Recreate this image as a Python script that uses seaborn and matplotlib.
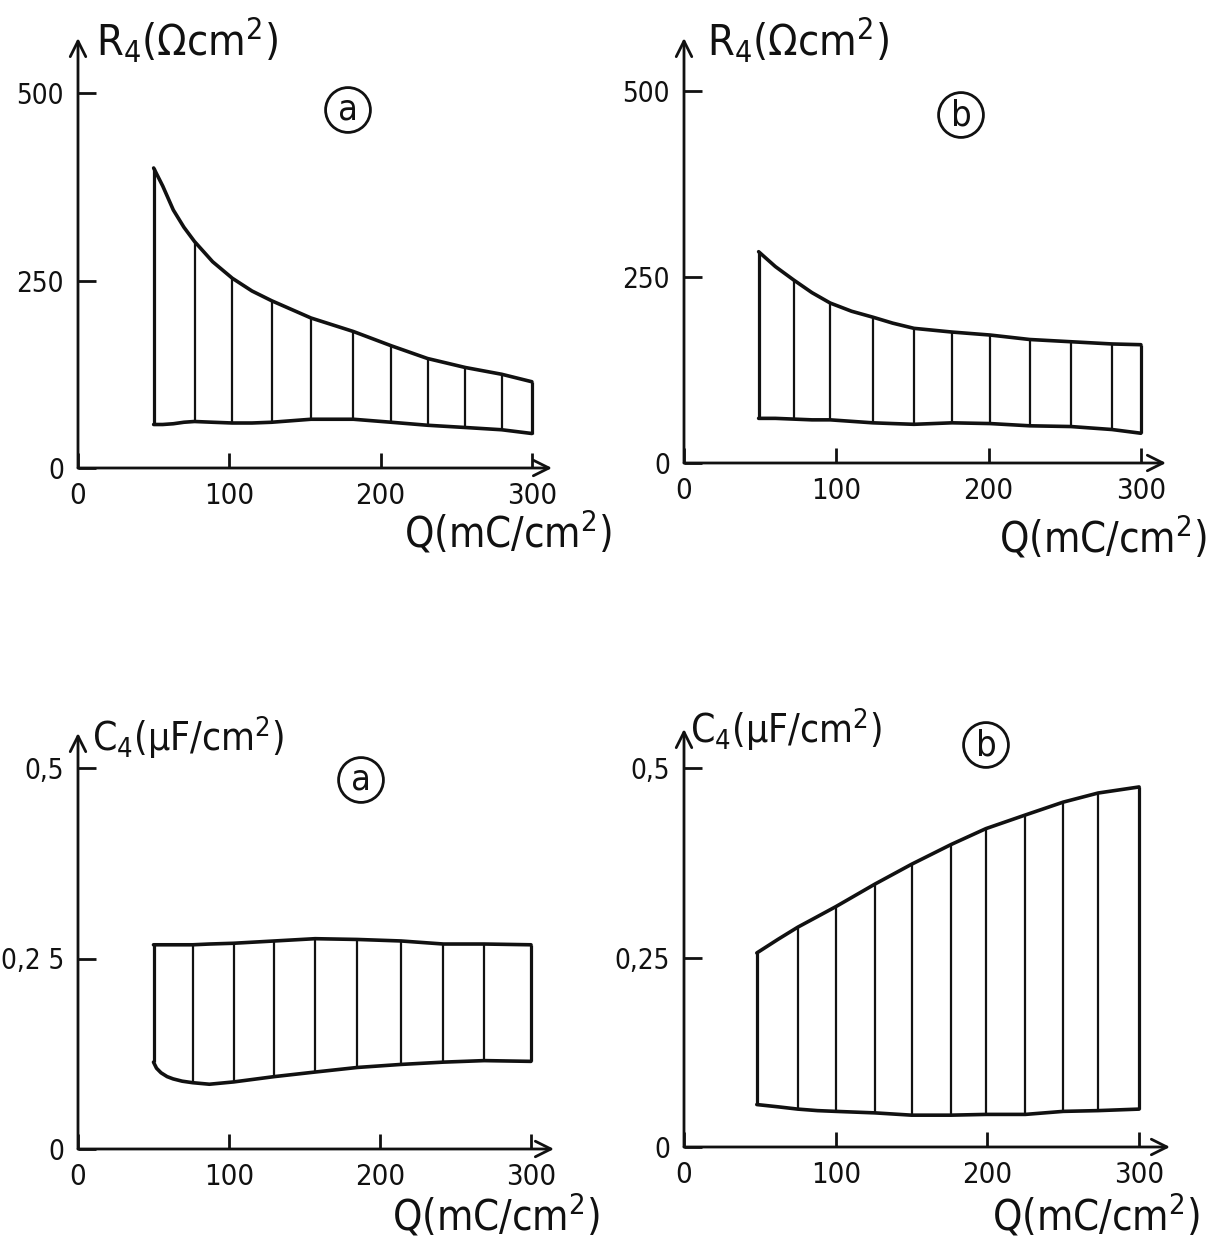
import matplotlib
matplotlib.use("Agg")
import matplotlib.pyplot as plt
import numpy as np
import pandas as pd
import seaborn as sns

W, H = 1221, 1245

# R4 panel (a)
q_r4a = [50, 53, 56, 63, 70, 77, 89, 102, 115, 128, 154, 182, 207, 231, 256,
         280, 300]
up_r4a = [400, 388, 376, 344, 321, 302, 275, 253, 236, 223, 200, 182, 163,
          146, 134, 125, 115]
lo_r4a = [58, 58, 58, 59, 61, 62, 61, 60, 60, 61, 65, 65, 61, 57, 54, 51, 46]
hatch_r4a = [50, 77, 102, 128, 154, 182, 207, 231, 256, 280, 300]

# R4 panel (b)
q_r4b = [49, 60, 72, 84, 96, 110, 124, 137, 151, 176, 201, 227, 254, 281, 300]
up_r4b = [284, 264, 246, 229, 215, 204, 196, 188, 181, 176, 172, 166, 163,
          160, 159]
lo_r4b = [60, 60, 59, 58, 58, 56, 54, 53, 52, 54, 53, 50, 49, 45, 40]
hatch_r4b = [49, 72, 96, 124, 151, 176, 201, 227, 254, 281, 300]

# C4 panel (a)
q_c4a = [50, 52, 55, 59, 63, 69, 76, 87, 103, 130, 157, 185, 214, 242, 269,
         300]
up_c4a = [0.268, 0.268, 0.268, 0.268, 0.268, 0.268, 0.268, 0.269, 0.270,
          0.273, 0.276, 0.275, 0.273, 0.269, 0.269, 0.268]
lo_c4a = [0.114, 0.106, 0.100, 0.095, 0.092, 0.089, 0.087, 0.085, 0.088,
          0.095, 0.101, 0.107, 0.111, 0.114, 0.116, 0.115]
hatch_c4a = [50, 76, 103, 130, 157, 185, 214, 242, 269, 300]

# C4 panel (b)
q_c4b = [48, 62, 75, 88, 100, 126, 150, 176, 199, 225, 250, 273, 300]
up_c4b = [0.256, 0.274, 0.290, 0.304, 0.317, 0.347, 0.373, 0.399, 0.420,
          0.438, 0.455, 0.467, 0.475]
lo_c4b = [0.056, 0.053, 0.050, 0.048, 0.047, 0.045, 0.042, 0.042, 0.043,
          0.043, 0.047, 0.048, 0.050]
hatch_c4b = [48, 75, 100, 126, 150, 176, 199, 225, 250, 273, 300]

x_ticks = [0, 100, 200, 300]
x_tick_labels = ["0", "100", "200", "300"]
r_ticks = [0, 250, 500]
r_tick_labels = ["0", "250", "500"]
c_ticks = [0, 0.25, 0.5]
c_tick_labels_a = ["0", "0,2 5", "0,5"]
c_tick_labels_b = ["0", "0,25", "0,5"]

sns.set_theme(style="white")
plt.rcParams["font.family"] = ["DejaVu Sans"]
plt.rcParams["font.stretch"] = "condensed"
plt.rcParams["mathtext.fontset"] = "dejavusans"
INK = "#111111"

fig = plt.figure(figsize=(W / 100, H / 100), dpi=100)


def fx(px):
    return px / W


def fy(py):
    return 1 - py / H


def panel(ox, oy, sx, sy, x_end, y_end, q, up, lo, hatch, yticks, ylabels):
    ax = fig.add_axes([fx(ox), fy(oy), (x_end - ox) / W, (oy - y_end) / H])
    ax.set_xlim(0, (x_end - ox) / sx)
    ax.set_ylim(0, (oy - y_end) / sy)
    ax.patch.set_alpha(0)
    for s in ax.spines.values():
        s.set_visible(False)
    for tip in [(1, 0), (0, 1)]:
        ax.annotate("", xy=tip, xytext=(0, 0), xycoords="axes fraction",
                    arrowprops=dict(arrowstyle="->", lw=2.0, color=INK,
                                    mutation_scale=28, shrinkA=0, shrinkB=0))
    df = pd.DataFrame({"Q": q, "up": up, "lo": lo})
    sns.lineplot(data=df, x="Q", y="up", ax=ax, color=INK, lw=2.6)
    sns.lineplot(data=df, x="Q", y="lo", ax=ax, color=INK, lw=2.6)
    h = df[df["Q"].isin(hatch)]
    edge = h["Q"].isin([h["Q"].min(), h["Q"].max()])
    ax.vlines(h["Q"][~edge], h["lo"][~edge], h["up"][~edge], color=INK, lw=1.6)
    ax.vlines(h["Q"][edge], h["lo"][edge], h["up"][edge], color=INK, lw=2.3)
    ax.set_xticks(x_ticks, x_tick_labels)
    ax.set_yticks(yticks, ylabels)
    ax.tick_params(axis="x", direction="in", length=11, width=2, color=INK,
                   pad=10, labelsize=21, labelcolor=INK, bottom=True)
    ax.tick_params(axis="y", direction="in", length=13, width=2, color=INK,
                   pad=10, labelsize=20, labelcolor=INK, left=True)
    ax.set_xlabel("")
    ax.set_ylabel("")
    return ax


panel(78, 468, 1.513, 0.750, 552, 38, q_r4a, up_r4a, lo_r4a, hatch_r4a,
      r_ticks, r_tick_labels)
panel(684, 463, 1.523, 0.744, 1166, 38, q_r4b, up_r4b, lo_r4b, hatch_r4b,
      r_ticks, r_tick_labels)
panel(78, 1149, 1.510, 762, 554, 733, q_c4a, up_c4a, lo_c4a, hatch_c4a,
      c_ticks, c_tick_labels_a)
panel(684, 1147, 1.517, 758, 1170, 729, q_c4b, up_c4b, lo_c4b, hatch_c4b,
      c_ticks, c_tick_labels_b)

# axis titles
ylab_r = r"R$_{4}$(Ωcm$^{2}$)"
ylab_c = r"C$_{4}$(µF/cm$^{2}$)"
xlab = r"Q(mC/cm$^{2}$)"
for x, y, t in [(96, 40, ylab_r), (707, 40, ylab_r)]:
    fig.text(fx(x), fy(y), t, fontsize=31, color=INK, ha="left",
             va="center")
for x, y, t in [(92, 737, ylab_c), (690, 729, ylab_c)]:
    fig.text(fx(x), fy(y), t, fontsize=28, color=INK, ha="left",
             va="center")
for x, y in [(612, 533), (1207, 538), (600, 1216), (1200, 1216)]:
    fig.text(fx(x), fy(y), xlab, fontsize=30, color=INK, ha="right",
             va="center")

# panel letters in circles
for x, y, t in [(348, 110, "a"), (961, 115, "b"), (361, 780, "a"),
                (986, 745, "b")]:
    fig.text(fx(x), fy(y), t, fontsize=26, color=INK, ha="center",
             va="center",
             bbox=dict(boxstyle="circle,pad=0.15", fc="none", ec=INK, lw=2))

fig.savefig("out.png", dpi=100, facecolor="white")
